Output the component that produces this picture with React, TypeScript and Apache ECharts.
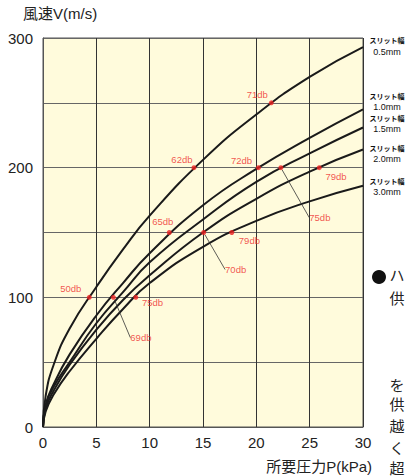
import React, { useEffect, useRef } from 'react';
import * as echarts from 'echarts';

// Pressure P (kPa) sample positions
const pressureTicks = [0, 0.25, 1, 2.5, 5, 7.5, 10, 15, 20, 25, 30];
const slitNames = ['0.5mm', '1.0mm', '1.5mm', '2.0mm', '3.0mm'];
// Wind speed V (m/s) per slit width
const v05 = [0, 24, 48, 76, 108, 137, 163, 206, 241, 270, 293];
const v10 = [0, 17, 33, 56, 86, 111, 134, 171, 199, 223, 245];
const v15 = [0, 16, 31, 50, 80, 104, 127, 160, 189, 211, 231];
const v20 = [0, 14, 28, 48, 75, 98, 117, 150, 176, 197, 214];
const v30 = [0, 12, 25, 43, 68, 91, 111, 139, 159, 174, 186];

// Noise level markers
const noiseP = [4.34, 14.15, 21.4, 11.84, 20.2, 6.6, 22.3, 15.06, 25.9, 8.7, 17.7];
const noiseV = [100, 200, 250, 150, 200, 100, 200, 150, 200, 100, 150];
const noiseLabels = ['50db', '62db', '71db', '65db', '72db', '69db', '75db', '70db', '79db', '75db', '79db'];

const xTicks = { min: 0, max: 30, step: 5 };
const yTicks = { min: 0, max: 300, step: 50, labelStep: 100 };

// label offsets (px) — styling only
const labelDx = [-18.6, -12, -14, -6.6, -17, 27.5, 39, 32, 16.7, 16.7, 17.6];
const labelDy = [-8.7, -8.3, -8, -10.6, -7, 40.3, 50, 37, 8.4, 5.6, 8.4];
const leader = [false, false, false, false, false, true, true, true, false, false, false];

const slitLabelY = [[40.7, 51.5], [96, 107], [118.7, 129], [148, 159], [181, 191.7]];
const sideChars = [
  { t: 'ハ', y: 275 }, { t: '供', y: 298 }, { t: 'を', y: 385 }, { t: '供', y: 404 },
  { t: '越', y: 426 }, { t: 'く', y: 448 }, { t: '超', y: 468 },
];

export default function App() {
  const ref = useRef<HTMLDivElement>(null);
  useEffect(() => {
    document.body.style.margin = '0';
    const chart = echarts.init(ref.current!, null, { renderer: 'svg' });
    const font = 'Liberation Sans, Arial, Noto Sans CJK JP, sans-serif';
    const curves = [v05, v10, v15, v20, v30];
    const series: any[] = curves.map((vals, i) => ({
      type: 'line',
      name: slitNames[i],
      data: pressureTicks.map((p, j) => [p, vals[j]]),
      smooth: 0.5,
      symbol: 'none',
      lineStyle: { color: '#1a1a1a', width: 2 },
      z: 2,
    }));
    series.push({
      type: 'scatter',
      data: noiseP.map((p, i) => ({
        value: [p, noiseV[i]],
        name: noiseLabels[i],
        labelLine: { show: leader[i] },
      })),
      symbolSize: 5,
      itemStyle: { color: '#ee2222' },
      label: {
        show: true,
        position: 'inside',
        formatter: '{b}',
        color: '#ee2a2a',
        fontSize: 9.5,
        fontFamily: font,
      },
      labelLine: { lineStyle: { color: '#333', width: 0.8 } },
      labelLayout: (p: any) => ({ dx: labelDx[p.dataIndex], dy: labelDy[p.dataIndex] }),
      z: 5,
    });

    const graphics: any[] = [
      {
        type: 'text', left: 23, top: 6,
        style: { text: '風速V(m/s)', fill: '#222', font: `15px ${font}` },
      },
      {
        type: 'text', right: 34, top: 459,
        style: { text: '所要圧力P(kPa)', fill: '#222', font: `15px ${font}` },
      },
      { type: 'circle', shape: { cx: 379, cy: 277, r: 7 }, style: { fill: '#111' } },
    ];
    slitNames.forEach((s, i) => {
      graphics.push({
        type: 'text', x: 387, y: slitLabelY[i][0],
        style: { text: 'スリット幅', fill: '#111', font: `bold 7px ${font}`, textAlign: 'center', textVerticalAlign: 'middle' },
      });
      graphics.push({
        type: 'text', x: 387, y: slitLabelY[i][1],
        style: { text: s, fill: '#111', font: `9px ${font}`, textAlign: 'center', textVerticalAlign: 'middle' },
      });
    });
    sideChars.forEach((c) => {
      graphics.push({
        type: 'text', x: 397, y: c.y,
        style: { text: c.t, fill: '#222', font: `15px ${font}`, textAlign: 'center', textVerticalAlign: 'middle' },
      });
    });

    chart.setOption({
      animation: false,
      grid: {
        left: 43, right: 43, top: 38, bottom: 49,
        show: true, backgroundColor: '#fffbdc', borderColor: '#555', borderWidth: 1,
      },
      xAxis: {
        type: 'value', min: xTicks.min, max: xTicks.max, interval: xTicks.step,
        axisLine: { show: true, lineStyle: { color: '#555' } },
        axisTick: { show: false },
        axisLabel: { color: '#222', fontSize: 15, margin: 8, fontFamily: font },
        splitLine: { show: true, lineStyle: { color: '#333', width: 1 } },
      },
      yAxis: {
        type: 'value', min: yTicks.min, max: yTicks.max, interval: yTicks.step,
        axisLine: { show: true, lineStyle: { color: '#555' } },
        axisTick: { show: false },
        axisLabel: {
          color: '#222', fontSize: 15, margin: 10, fontFamily: font,
          formatter: (v: number) => (v % yTicks.labelStep === 0 ? String(v) : ''),
        },
        splitLine: { show: true, lineStyle: { color: '#666', width: 1 } },
      },
      series,
      graphic: graphics,
    });
    return () => chart.dispose();
  }, []);
  return <div ref={ref} style={{ width: 406, height: 476 }} />;
}
